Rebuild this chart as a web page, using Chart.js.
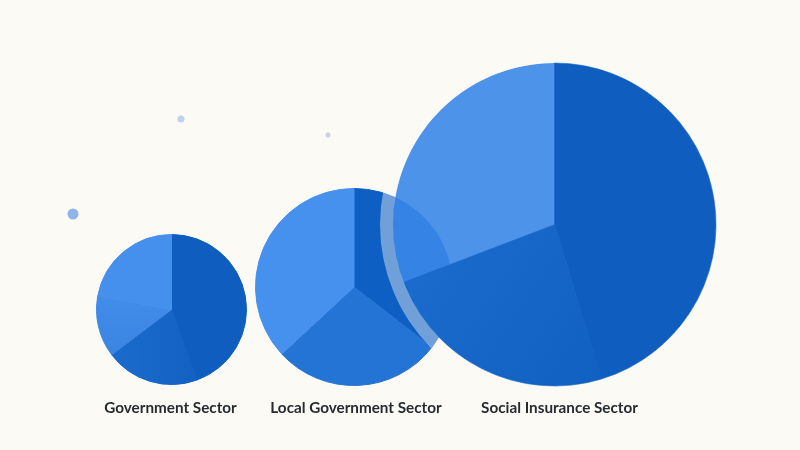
<!DOCTYPE html>
<html>
<head>
<meta charset="utf-8">
<script src="https://cdn.jsdelivr.net/npm/chart.js@4"></script>
<style>
html,body{margin:0;padding:0;width:800px;height:450px;overflow:hidden;background:#fbfaf5;}
canvas{position:absolute;}
.lab{position:absolute;top:398px;transform:translateX(-50%);white-space:nowrap;font:700 15.25px Lato,sans-serif;color:#262b32;line-height:18px;}
</style>
</head>
<body>
<canvas id="dots" width="800" height="450" style="left:0;top:0"></canvas>
<canvas id="p1" width="151" height="151" style="left:96px;top:234px"></canvas>
<canvas id="p2" width="198" height="198" style="left:255px;top:188px"></canvas>
<canvas id="p3" width="349" height="349" style="left:380px;top:50px"></canvas>
<div class="lab" id="l1" style="left:170.5px"></div>
<div class="lab" id="l2" style="left:356px"></div>
<div class="lab" id="l3" style="left:559.5px"></div>
<script>
const sectors = ["Government Sector", "Local Government Sector", "Social Insurance Sector"];
const government = [44.5, 20.2, 13.2, 22.1];
const localGovernment = [35.5, 27.6, 36.9];
const socialInsurance = [45.3, 23.9, 30.8];
const localColors = ["#0e5fc4", "#2374d4", "#4691ee"];
const dotX = [73, 181, 328];
const dotY = [214, 119, 135];
const dotRadius = [5.5, 3.5, 2.5];
const dotColors = ["#8fb6ec", "#c0d2ee", "#c6d0de"];

const baseOpts = {
  responsive: false, animation: false,
  layout: {padding: 0, autoPadding: false},
  plugins: {legend: {display: false}, tooltip: {enabled: false}},
  events: []
};

function sweep(id, x0, y0, x1, y1, from, to) {
  const c = document.getElementById(id);
  const g = c.getContext("2d").createLinearGradient(x0 * c.width, y0 * c.height, x1 * c.width, y1 * c.height);
  g.addColorStop(0, from);
  g.addColorStop(1, to);
  return g;
}

new Chart(document.getElementById("dots"), {
  type: "scatter",
  data: {datasets: [{
    data: dotX.map((x, i) => ({x, y: dotY[i]})),
    pointRadius: dotRadius, pointBackgroundColor: dotColors, pointBorderWidth: 0
  }]},
  options: {...baseOpts, scales: {
    x: {type: "linear", display: false, min: 0, max: 800},
    y: {type: "linear", display: false, min: 0, max: 450, reverse: true}
  }}
});

const governmentColors = ["#0f5ebf",
  sweep("p1", 0.2, 0.8, 0.7, 0.8, "#1a6acc", "#1160c2"),
  sweep("p1", 0, 0.4, 0, 0.8, "#438ce9", "#3a84e2"),
  "#4690ed"];
new Chart(document.getElementById("p1"), {
  type: "pie",
  data: {labels: ["Part 1", "Part 2", "Part 3", "Part 4"],
    datasets: [{data: government, backgroundColor: governmentColors, borderColor: governmentColors, borderWidth: 1}]},
  options: baseOpts
});
new Chart(document.getElementById("p2"), {
  type: "pie",
  data: {labels: ["Part 1", "Part 2", "Part 3"],
    datasets: [{data: localGovernment, backgroundColor: localColors, borderColor: localColors, borderWidth: 1}]},
  options: baseOpts
});

const socialColors = ["#0f5ebf",
  sweep("p3", 0.1, 0.5, 0.7, 0.9, "#1c6ccd", "#1060c1"),
  "rgba(58,135,232,0.9)"];
new Chart(document.getElementById("p3"), {
  type: "doughnut",
  data: {labels: ["Part 1", "Part 2", "Part 3"], datasets: [
    {data: [1], backgroundColor: "rgba(251,250,245,0.42)", borderWidth: 0, weight: 13},
    {data: socialInsurance, backgroundColor: socialColors, borderColor: socialColors, borderWidth: [1, 1, 0], weight: 161.5}
  ]},
  options: {...baseOpts, cutout: 0}
});

["l1", "l2", "l3"].forEach((id, i) => { document.getElementById(id).textContent = sectors[i]; });
</script>
</body>
</html>
